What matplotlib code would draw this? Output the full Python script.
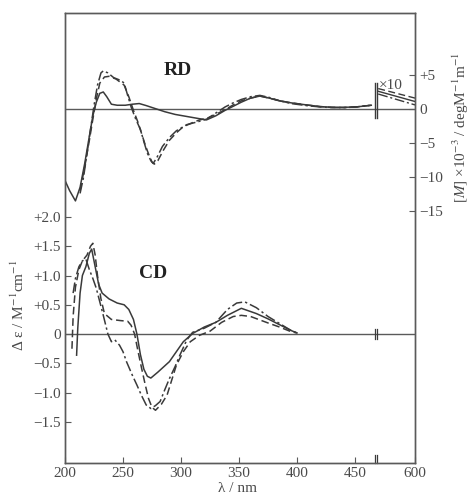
import matplotlib.pyplot as plt
import numpy as np

plt.rcParams['font.family'] = ['Liberation Serif', 'DejaVu Serif']
plt.rcParams['mathtext.fontset'] = 'stix'

# ---- RD data: [M] x 10^-3 (deg M^-1 m^-1) ----
rd_solid_wl = [200, 204, 209, 213, 217, 221, 224, 227, 230, 233, 236, 240, 245, 252, 258, 264,
               270, 278, 286, 295, 305, 315, 322, 330, 338, 345, 352, 360, 368, 376, 385, 395,
               408, 420, 430, 440, 451, 464]
rd_solid = [-10.5, -12.0, -13.5, -11.5, -8.0, -4.0, -1.0, 1.0, 2.3, 2.5, 1.8, 0.7, 0.55, 0.55, 0.7, 0.8,
            0.5, 0.05, -0.4, -0.8, -1.1, -1.4, -1.6, -1.0, -0.2, 0.4, 1.0, 1.6, 1.9, 1.6, 1.2, 0.9,
            0.6, 0.35, 0.25, 0.25, 0.3, 0.55]

rd_dashdot_wl = [213, 216, 219, 222, 225, 228, 231, 233, 237, 242, 248, 251, 254, 257, 261, 265,
                 268, 271, 274, 276, 279, 284, 290, 296, 305, 314, 322, 330, 338, 345, 352, 360,
                 368, 376, 385, 395, 408, 420, 430, 440, 451, 464]
rd_dashdot = [-12.4, -10.0, -6.5, -3.0, 0.5, 3.5, 5.3, 5.6, 5.3, 4.6, 4.2, 3.8, 2.0, 0.3, -1.5, -3.0,
              -4.8, -6.5, -7.6, -8.0, -7.2, -5.5, -4.2, -3.2, -2.3, -1.9, -1.5, -0.6, 0.3, 0.9, 1.4, 1.8,
              2.0, 1.7, 1.2, 0.8, 0.5, 0.3, 0.2, 0.2, 0.3, 0.55]

rd_dashed_wl = [213, 217, 221, 224, 227, 230, 234, 238, 244, 251, 255, 259, 263, 266, 269, 272,
                275, 277, 280, 285, 290, 296, 302, 310, 316, 322, 330, 338, 345, 352, 360, 368,
                376, 385, 395, 408, 420, 430, 440, 451, 464]
rd_dashed = [-12.0, -8.5, -4.6, -1.5, 1.5, 3.8, 4.7, 4.8, 4.4, 3.5, 1.8, -0.2, -2.0, -3.6, -5.2, -6.6,
             -7.8, -8.1, -7.6, -6.0, -4.6, -3.5, -2.6, -2.0, -1.6, -1.4, -0.8, -0.1, 0.6, 1.2, 1.6, 1.9,
             1.6, 1.2, 0.9, 0.6, 0.35, 0.25, 0.2, 0.3, 0.55]

# after the axis break (values x10)
rd_tail_wl = [470, 600]
rd_tail_solid = [2.6, 1.1]
rd_tail_dashed = [3.0, 1.6]
rd_tail_dashdot = [2.2, 0.6]

# ---- CD data: delta epsilon (M^-1 cm^-1) ----
cd_solid_wl = [210, 211, 213, 215, 218, 221, 223, 226, 229, 232, 238, 245, 251, 255, 259, 262,
               265, 268, 271, 274, 280, 290, 302, 310, 320, 330, 340, 352, 365, 375, 385, 395, 400]
cd_solid = [-0.36, 0.1, 0.7, 1.0, 1.15, 1.38, 1.45, 1.15, 0.85, 0.7, 0.6, 0.53, 0.5, 0.42, 0.25, 0.0,
            -0.35, -0.6, -0.72, -0.75, -0.65, -0.47, -0.13, 0.01, 0.12, 0.2, 0.32, 0.44, 0.35, 0.26,
            0.16, 0.06, 0.02]

cd_dashed_wl = [206, 207, 209, 212, 215, 219, 222, 224, 226, 228, 231, 234, 240, 248, 254, 257,
                260, 263, 266, 269, 272, 275, 278, 283, 288, 296, 302, 308, 316, 325, 335, 345,
                352, 360, 375, 385, 395, 400]
cd_dashed = [-0.25, 0.3, 0.8, 1.1, 1.25, 1.35, 1.5, 1.55, 1.35, 1.0, 0.6, 0.35, 0.25, 0.23, 0.22, 0.15,
             0.0, -0.3, -0.58, -0.85, -1.1, -1.25, -1.3, -1.2, -1.04, -0.53, -0.3, -0.13, -0.02, 0.05,
             0.2, 0.3, 0.32, 0.3, 0.19, 0.12, 0.04, 0.02]

cd_dashdot_wl = [207, 209, 212, 215, 218, 221, 224, 227, 230, 233, 237, 240, 243, 247, 250, 253,
                 258, 262, 266, 270, 274, 278, 282, 286, 290, 295, 299, 305, 310, 320, 330, 340,
                 348, 355, 365, 375, 385, 395, 400]
cd_dashdot = [0.7, 0.95, 1.15, 1.25, 1.28, 1.1, 0.95, 0.78, 0.55, 0.32, 0.0, -0.13, -0.1, -0.19, -0.3,
              -0.47, -0.7, -0.87, -1.05, -1.21, -1.27, -1.22, -1.15, -0.95, -0.76, -0.55, -0.36, -0.1,
              0.03, 0.1, 0.2, 0.42, 0.53, 0.55, 0.45, 0.3, 0.18, 0.06, 0.02]

x_ticks = [200, 250, 300, 350, 400, 450, 600]
cd_ticks = [2.0, 1.5, 1.0, 0.5, 0, -0.5, -1.0, -1.5]
cd_tick_labels = ['+2.0', '+1.5', '+1.0', '+0.5', '0', '\u22120.5', '\u22121.0', '\u22121.5']
rd_ticks = [5, 0, -5, -10, -15]
rd_tick_labels = ['+5', '0', '\u22125', '\u221210', '\u221215']

BREAK = 468
X_END = 501.7


def xpos(wl):
    """Map wavelength to axis position (compressed after the break)."""
    wl = np.asarray(wl, dtype=float)
    return np.where(wl <= 466, wl, 470 + (wl - 470) * (X_END - 470) / (600 - 470))


line_c = '#3a3a3a'
axis_c = '#5a5a5a'
text_c = '#4a4a4a'
DASH = (0, (5, 2.5))
DASHDOT = (0, (7, 2, 1.5, 2))

fig = plt.figure(figsize=(4.71, 4.95), dpi=100)
ax = fig.add_axes([65 / 471, 32 / 495, 350 / 471, 450 / 495])
ax2 = ax.twinx()

ax.set_xlim(200, X_END)
ax.set_ylim(-2.2, 5.48)
ax2.set_ylim(-52, 14.1)

# CD curves
ax.axhline(0, color=axis_c, lw=1.0)
ax.plot(xpos(cd_solid_wl), cd_solid, color=line_c, lw=1.1, ls='-')
ax.plot(xpos(cd_dashed_wl), cd_dashed, color=line_c, lw=1.1, ls=DASH)
ax.plot(xpos(cd_dashdot_wl), cd_dashdot, color=line_c, lw=1.1, ls=DASHDOT)

# RD curves
ax2.axhline(0, color=axis_c, lw=1.0)
ax2.plot(xpos(rd_solid_wl), rd_solid, color=line_c, lw=1.1, ls='-')
ax2.plot(xpos(rd_dashed_wl), rd_dashed, color=line_c, lw=1.1, ls=DASH)
ax2.plot(xpos(rd_dashdot_wl), rd_dashdot, color=line_c, lw=1.1, ls=DASHDOT)
ax2.plot(xpos(rd_tail_wl), rd_tail_solid, color=line_c, lw=1.0, ls='-')
ax2.plot(xpos(rd_tail_wl), rd_tail_dashed, color=line_c, lw=1.0, ls=DASH)
ax2.plot(xpos(rd_tail_wl), rd_tail_dashdot, color=line_c, lw=1.0, ls=DASHDOT)

# break marks
for dx in (-1.2, 1.2):
    ax2.plot([BREAK + dx, BREAK + dx], [-1.3, 3.8], color=line_c, lw=1.0)
    ax.plot([BREAK + dx, BREAK + dx], [-0.08, 0.08], color=line_c, lw=0.9)
    ax.plot([BREAK + dx, BREAK + dx], [-2.2, -2.07], color=line_c, lw=0.9, clip_on=False)

for a in (ax, ax2):
    for s in a.spines.values():
        s.set_color(axis_c)
        s.set_linewidth(1.0)

ax.set_xticks(xpos(x_ticks))
ax.set_xticklabels([str(t) for t in x_ticks])
ax.set_yticks(cd_ticks)
ax.set_yticklabels(cd_tick_labels)
ax.tick_params(axis='both', direction='in', length=4, width=0.8, colors=axis_c,
               labelcolor=text_c, labelsize=11, pad=3)
ax2.set_yticks(rd_ticks)
ax2.set_yticklabels(rd_tick_labels)
ax2.tick_params(axis='y', direction='in', length=4, width=0.8, colors=axis_c,
                labelcolor=text_c, labelsize=11, pad=3)

ax.text(297, 4.5, 'RD', fontsize=14, fontweight='bold', color='#222222', ha='center', va='center')
ax.text(276, 1.04, 'CD', fontsize=14, fontweight='bold', color='#222222', ha='center', va='center')
ax.text(481, 4.25, '\u00d710', fontsize=11, color=text_c, ha='center', va='center')

fig.text(18 / 471, 1 - 305 / 495, '\u0394 \u03b5 / M$^{-1}$cm$^{-1}$', rotation=90,
         fontsize=11, color=text_c, ha='center', va='center')
fig.text(461 / 471, 1 - 128 / 495, '[$M$] \u00d710$^{-3}$ / degM$^{-1}$m$^{-1}$', rotation=90,
         fontsize=11, color=text_c, ha='center', va='center')
fig.text(237 / 471, 1 - 488 / 495, '\u03bb / nm', fontsize=11, color=text_c, ha='center', va='center')

fig.savefig('out.png', dpi=100)
